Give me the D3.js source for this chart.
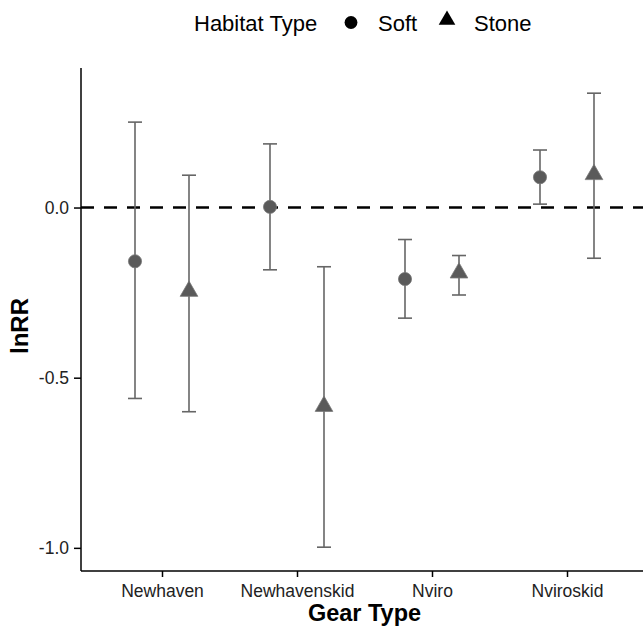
<!DOCTYPE html>
<html>
<head>
<meta charset="utf-8">
<script src="https://cdn.jsdelivr.net/npm/d3@7"></script>
<style>
  body { margin: 0; background: #fff; }
  svg { font-family: "Liberation Sans", Arial, sans-serif; }
</style>
</head>
<body>
<svg id="chart" width="643" height="629"></svg>
<script>
const gears = ["Newhaven", "Newhavenskid", "Nviro", "Nviroskid"];
const habitats = ["Soft", "Stone"];
const softMean = [-0.158, 0.002, -0.210, 0.089];
const softLow = [-0.561, -0.183, -0.325, 0.010];
const softHigh = [0.251, 0.187, -0.094, 0.169];
const stoneMean = [-0.246, -0.584, -0.192, 0.097];
const stoneLow = [-0.600, -0.998, -0.257, -0.149];
const stoneHigh = [0.095, -0.174, -0.141, 0.336];
const yTicks = [0.0, -0.5, -1.0];

let svg = d3.select("#chart");
const panelLeft = 81, panelRight = 648, panelTop = 68, panelBottom = 571;

// rows for the chart
let rows = [];
gears.forEach(function (g, i) {
    rows.push({gear: g, habitat: "Soft", mean: softMean[i], lo: softLow[i], hi: softHigh[i]});
    rows.push({gear: g, habitat: "Stone", mean: stoneMean[i], lo: stoneLow[i], hi: stoneHigh[i]});
});

// discrete x with ggplot-like expand of 0.6 units
let x = d3.scalePoint().domain(gears).range([panelLeft, panelRight]).padding(0.6);
let step = x.step();
let dodge = d3.scalePoint().domain(habitats).range([-0.2 * step, 0.2 * step]);
let y = d3.scaleLinear().domain([-1.068, 0.41]).range([panelBottom, panelTop]);

let g = svg.append("g");

// zero reference line
g.append("line")
    .attr("x1", panelLeft).attr("x2", 643)
    .attr("y1", y(0)).attr("y2", y(0))
    .attr("stroke", "#000").attr("stroke-width", 2.4)
    .attr("stroke-dasharray", "13,10");

// error bars
let bars = g.append("g").selectAll("g").data(rows).enter().append("g")
    .attr("transform", function (d) { return "translate(" + (x(d.gear) + dodge(d.habitat)) + ",0)"; });
bars.append("line")
    .attr("y1", function (d) { return y(d.lo); })
    .attr("y2", function (d) { return y(d.hi); })
    .attr("stroke", "#666").attr("stroke-width", 1.6);
bars.append("line")
    .attr("x1", -7).attr("x2", 7)
    .attr("y1", function (d) { return y(d.lo); }).attr("y2", function (d) { return y(d.lo); })
    .attr("stroke", "#666").attr("stroke-width", 1.6);
bars.append("line")
    .attr("x1", -7).attr("x2", 7)
    .attr("y1", function (d) { return y(d.hi); }).attr("y2", function (d) { return y(d.hi); })
    .attr("stroke", "#666").attr("stroke-width", 1.6);

// points
let circleSym = d3.symbol().type(d3.symbolCircle).size(135);
let triSym = d3.symbol().type(d3.symbolTriangle).size(135);
g.append("g").selectAll("path").data(rows).enter().append("path")
    .attr("d", function (d) { return d.habitat === "Soft" ? circleSym() : triSym(); })
    .attr("transform", function (d) { return "translate(" + (x(d.gear) + dodge(d.habitat)) + "," + y(d.mean) + ")"; })
    .attr("fill", "#5a5a5a")
    .attr("stroke", "#777").attr("stroke-width", 0.8);

// axes
let fmt = function (v) { return d3.format(".1f")(v).replace("\u2212", "-"); };
let yAxis = svg.append("g")
    .attr("transform", "translate(" + panelLeft + ",0)")
    .call(d3.axisLeft(y).tickValues(yTicks).tickFormat(fmt).tickSize(7).tickPadding(5));
yAxis.select(".domain").attr("d", "M0," + panelTop + "V" + panelBottom).attr("stroke-width", 1.5);
yAxis.selectAll("text").attr("font-size", 17.5).attr("fill", "#222");
yAxis.selectAll(".tick line").attr("stroke-width", 1.5);

let xAxis = svg.append("g")
    .attr("transform", "translate(0," + panelBottom + ")")
    .call(d3.axisBottom(x).tickSize(6).tickPadding(8));
xAxis.select(".domain").attr("d", "M" + panelLeft + ",0H643").attr("stroke-width", 1.5);
xAxis.selectAll("text").attr("font-size", 17.5).attr("fill", "#222");
xAxis.selectAll(".tick line").attr("stroke-width", 1.5);

// axis titles
svg.append("text")
    .attr("x", (panelLeft + panelRight) / 2).attr("y", 621)
    .attr("text-anchor", "middle")
    .attr("font-size", 23.5).attr("font-weight", "bold")
    .text("Gear Type");
svg.append("text")
    .attr("transform", "translate(28,326) rotate(-90)")
    .attr("text-anchor", "middle")
    .attr("font-size", 24).attr("font-weight", "bold")
    .text("lnRR");

// legend
let legend = svg.append("g").attr("font-size", 22);
legend.append("text").attr("x", 194).attr("y", 31).text("Habitat Type");
legend.append("path").attr("d", d3.symbol().type(d3.symbolCircle).size(130)())
    .attr("transform", "translate(351,22.5)").attr("fill", "#000");
legend.append("text").attr("x", 378).attr("y", 31).text(habitats[0]);
legend.append("path").attr("d", d3.symbol().type(d3.symbolTriangle).size(120)())
    .attr("transform", "translate(447,20)").attr("fill", "#000");
legend.append("text").attr("x", 474).attr("y", 31).text(habitats[1]);
</script>
</body>
</html>
